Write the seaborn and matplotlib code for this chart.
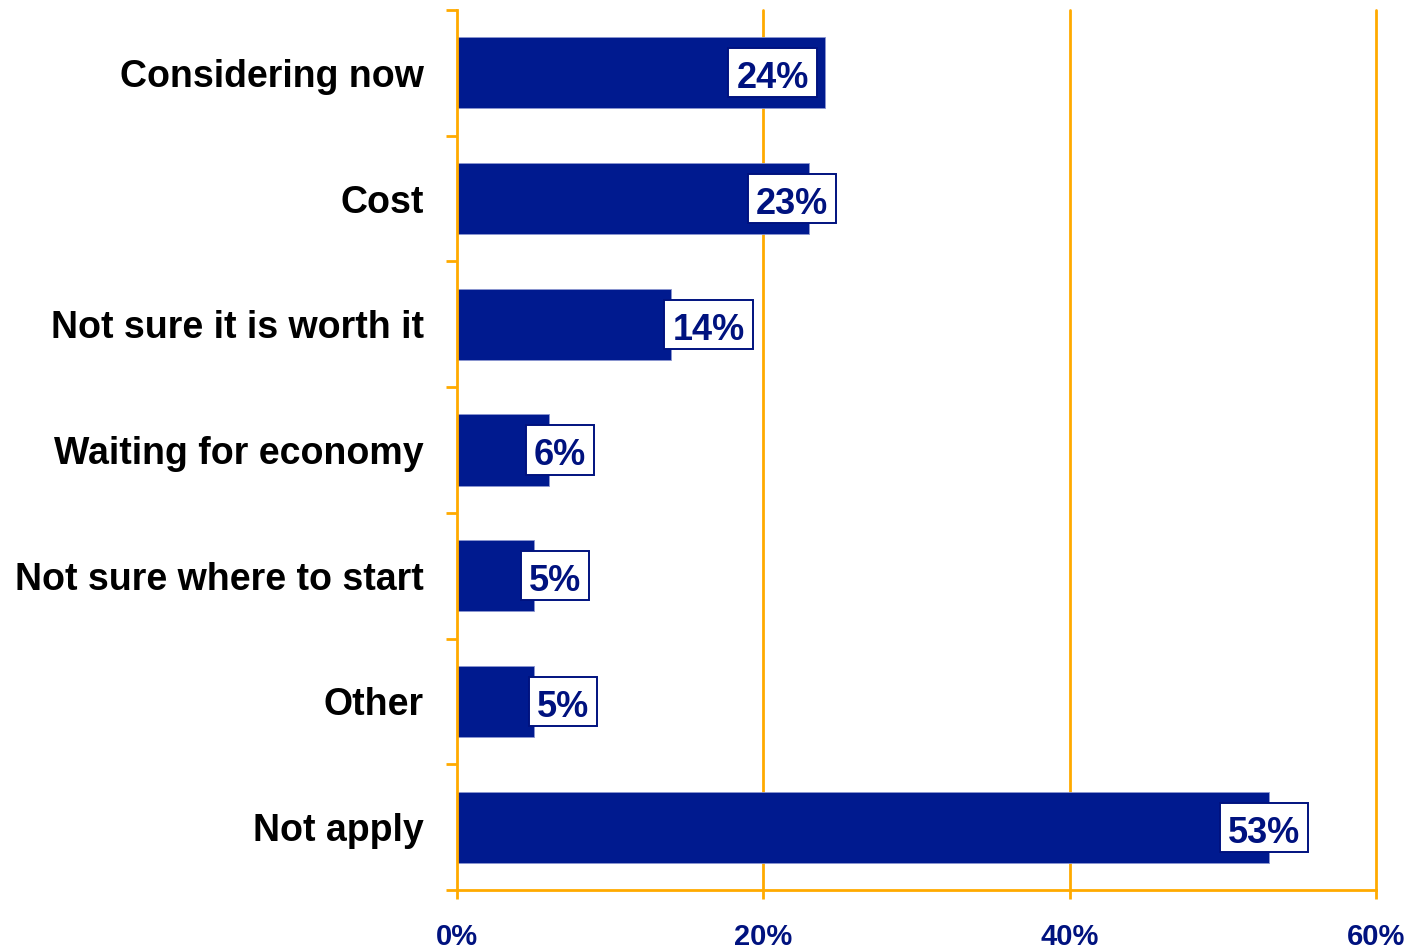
import matplotlib
matplotlib.use("Agg")
import matplotlib.pyplot as plt
from matplotlib.path import Path
from matplotlib.ticker import FixedLocator, FuncFormatter
import seaborn as sns
import pandas as pd

# Survey responses: reasons given, share of respondents (%)
categories = [
    "Considering now",
    "Cost",
    "Not sure it is worth it",
    "Waiting for economy",
    "Not sure where to start",
    "Other",
    "Not apply",
]
shares = [24, 23, 14, 6, 5, 5, 53]
x_ticks = [0, 20, 40, 60]

# horizontal nudge (pixels) of each value box relative to its bar end
label_nudge_px = [-52, -17, 37, 11, 21, 29, -5]

bar_color = "#001A8F"
navy = "#00127F"
orange = "#FFAA00"

sns.set_style("white")
plt.rcParams["font.family"] = ["Liberation Sans", "DejaVu Sans"]
plt.rcParams["font.weight"] = "bold"


def label_box(x0, y0, width, height, mutation_size):
    """Rectangle around a value label, with extra room above the digits."""
    side = 0.22 * mutation_size
    top = 0.36 * mutation_size
    bottom = 0.03 * mutation_size
    xa, xb = x0 - side, x0 + width + side
    ya, yb = y0 - bottom, y0 + height + top
    return Path([(xa, ya), (xb, ya), (xb, yb), (xa, yb), (xa, ya)], closed=True)


df = pd.DataFrame({"reason": categories, "share": shares})

fig = plt.figure(figsize=(14.2, 9.48), dpi=100)
ax = fig.add_axes([457 / 1420, 1 - 890 / 948, 919 / 1420, 880 / 948])

sns.barplot(data=df, x="share", y="reason", orient="h", color=bar_color,
            width=0.565, saturation=1, edgecolor="#8C96D0", linewidth=0.6,
            zorder=3, ax=ax)

ax.set_xlim(0, 60)
ax.set_ylim(len(categories) - 0.5, -0.5)
ax.set_xlabel("")
ax.set_ylabel("")

# vertical grid lines
for t in x_ticks[1:]:
    ax.axvline(t, color=orange, lw=2.0, zorder=1, clip_on=False)

# spines
for side in ["top", "right"]:
    ax.spines[side].set_visible(False)
for side in ["left", "bottom"]:
    ax.spines[side].set_color(orange)
    ax.spines[side].set_linewidth(2.0)
    ax.spines[side].set_zorder(4)

# x axis ticks
ax.xaxis.set_major_locator(FixedLocator(x_ticks))
ax.xaxis.set_major_formatter(FuncFormatter(lambda v, p: f"{v:.0f}%"))
ax.tick_params(axis="x", which="major", bottom=True, direction="out",
               length=6.5, width=2.0, color=orange, pad=17, labelsize=21,
               labelcolor=navy)

# y axis: labels at bar centres, tick marks at category boundaries
ax.tick_params(axis="y", which="major", left=True, length=0, pad=24,
               labelsize=27, labelcolor="black")
ax.yaxis.set_minor_locator(FixedLocator([i - 0.5 for i in range(len(categories) + 1)]))
ax.tick_params(axis="y", which="minor", left=True, direction="out", length=8,
               width=2.0, color=orange)
for lab in ax.get_yticklabels() + ax.get_xticklabels():
    lab.set_fontweight("bold")

# value boxes
for i, (v, dx) in enumerate(zip(shares, label_nudge_px)):
    ax.annotate(f"{v}%", xy=(v, i), xytext=(dx * 0.72, -4.3),
                textcoords="offset points", ha="center", va="center",
                fontsize=26, fontweight="bold", color=navy, zorder=5,
                bbox=dict(boxstyle=label_box, fc="white", ec=navy, lw=1.4))

fig.savefig("out.png", dpi=100)
